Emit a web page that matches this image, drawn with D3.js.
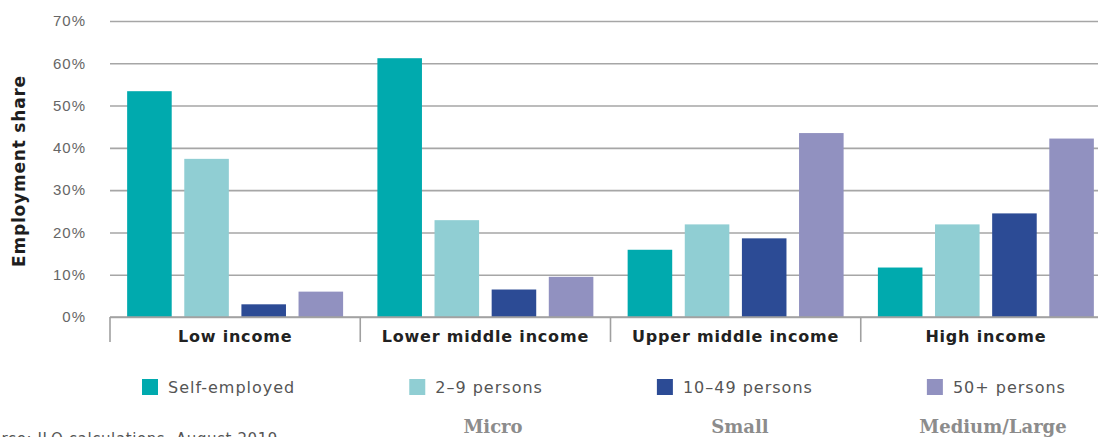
<!DOCTYPE html>
<html>
<head>
<meta charset="utf-8">
<script src="https://cdn.jsdelivr.net/npm/d3@7"></script>
<style>
  body { margin: 0; background: #fff; }
  svg { display: block; font-family: "DejaVu Sans", sans-serif; }
  .grid line { stroke: #a6a6a6; stroke-width: 1.6; }
  .grid .domain { display: none; }
  .grid text { fill: #666; font-size: 15px; letter-spacing: 1px; }
</style>
</head>
<body>
<svg id="chart"></svg>
<script>
// income groups along the x axis
const groups = ['Low income', 'Lower middle income', 'Upper middle income', 'High income'];
// enterprise size series
const series = ['Self-employed', '2–9 persons', '10–49 persons', '50+ persons'];
const colors = ['#00aaae', '#90ced3', '#2c4b95', '#9191c0'];
// employment share (%) per series, one value per income group
const selfEmployed = [53.4, 61.2, 15.9, 11.7];
const persons2to9 = [37.4, 22.9, 21.9, 21.9];
const persons10to49 = [3.0, 6.5, 18.6, 24.5];
const persons50plus = [6.0, 9.5, 43.5, 42.2];
const yTicks = [0, 10, 20, 30, 40, 50, 60, 70];
const sizeLabels = ['Micro', 'Small', 'Medium/Large'];

const values = [selfEmployed, persons2to9, persons10to49, persons50plus];
const data = groups.map((g, i) => ({
  group: g,
  vals: series.map((s, j) => ({ key: s, value: values[j][i], color: colors[j] }))
}));

const W = 1098, H = 437;
const margin = { left: 110, top: 21 };
const plotRight = 1111; // chart runs slightly past the right edge in the original

const svg = d3.select('#chart').attr('width', W).attr('height', H);

const y = d3.scaleLinear().domain([0, 70]).range([317, margin.top]);
const x0 = d3.scaleBand().domain(groups).range([margin.left, plotRight]);
const x1 = d3.scaleBand().domain(series).range([0, x0.bandwidth()])
  .paddingInner(0.22).paddingOuter(0.3);

// gridlines + y tick labels
const yAxis = d3.axisLeft(y)
  .tickValues(yTicks)
  .tickFormat(d => d + '%')
  .tickSizeInner(-(W + 20 - margin.left))
  .tickSizeOuter(0)
  .tickPadding(24);

svg.append('g')
  .attr('class', 'grid')
  .attr('transform', `translate(${margin.left},0)`)
  .call(yAxis);

// y title
svg.append('text')
  .attr('transform', `translate(25, ${(y(0) + y(70)) / 2 + 2}) rotate(-90)`)
  .attr('text-anchor', 'middle')
  .attr('font-size', 17)
  .attr('font-weight', 'bold')
  .attr('letter-spacing', 0.8)
  .attr('fill', '#1e1e1e')
  .text('Employment share');

// bars
const gGroups = svg.append('g').selectAll('g')
  .data(data)
  .join('g')
  .attr('transform', d => `translate(${x0(d.group)},0)`);

gGroups.selectAll('rect')
  .data(d => d.vals)
  .join('rect')
  .attr('x', d => x1(d.key))
  .attr('width', x1.bandwidth())
  .attr('y', d => y(d.value))
  .attr('height', d => y(0) - y(d.value))
  .attr('fill', d => d.color);

// category axis: baseline, separators and labels
const xAxisG = svg.append('g');
xAxisG.append('line')
  .attr('x1', margin.left).attr('x2', plotRight)
  .attr('y1', y(0)).attr('y2', y(0))
  .attr('stroke', '#a0a0a0').attr('stroke-width', 1.6);

xAxisG.selectAll('.sep')
  .data(groups)
  .join('line')
  .attr('class', 'sep')
  .attr('x1', d => x0(d)).attr('x2', d => x0(d))
  .attr('y1', y(0)).attr('y2', y(0) + 25)
  .attr('stroke', '#a0a0a0').attr('stroke-width', 1.6);

xAxisG.selectAll('.cat')
  .data(groups)
  .join('text')
  .attr('class', 'cat')
  .attr('x', d => x0(d) + x0.bandwidth() / 2)
  .attr('y', y(0) + 25)
  .attr('text-anchor', 'middle')
  .attr('font-size', 16)
  .attr('font-weight', 'bold')
  .attr('letter-spacing', 0.8)
  .attr('fill', '#222')
  .text(d => d);

// legend, items spaced by a fixed gap
const legend = svg.append('g').attr('transform', 'translate(142, 379)');
let lx = 0;
series.forEach((s, i) => {
  const item = legend.append('g').attr('transform', `translate(${lx},0)`);
  item.append('rect').attr('width', 16).attr('height', 16).attr('fill', colors[i]);
  const t = item.append('text')
    .attr('x', 26).attr('y', 14)
    .attr('font-size', 16)
    .attr('letter-spacing', 1)
    .attr('fill', '#555')
    .text(s);
  lx += 26 + t.node().getComputedTextLength() + 114;
});

// enterprise size annotation under the legend
const sizeX = d3.scalePoint().domain(sizeLabels).range([493, 993]);
svg.append('g').selectAll('text')
  .data(sizeLabels)
  .join('text')
  .attr('x', d => sizeX(d) + (d === 'Small' ? -3 : 0))
  .attr('y', 433)
  .attr('text-anchor', 'middle')
  .attr('font-family', '"DejaVu Serif", serif')
  .attr('font-weight', 'bold')
  .attr('font-size', 18)
  .attr('fill', '#8c8c8c')
  .text(d => d);

// source line, cut off by the bottom and left edges
svg.append('text')
  .attr('x', 278)
  .attr('y', 444)
  .attr('text-anchor', 'end')
  .attr('font-size', 15)
  .attr('letter-spacing', 0.6)
  .attr('fill', '#555')
  .text('Source: ILO calculations, August 2019');
</script>
</body>
</html>
